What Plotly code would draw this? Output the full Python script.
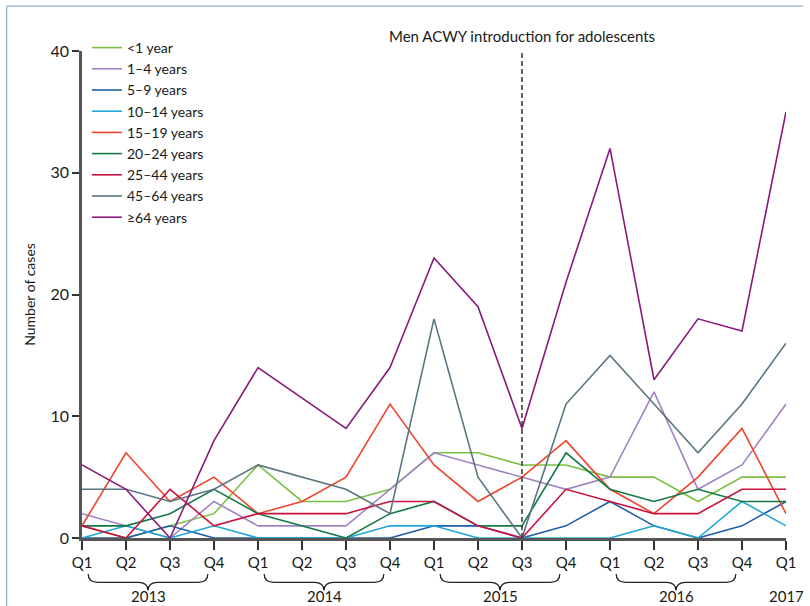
import plotly.graph_objects as go

quarters = ["Q1", "Q2", "Q3", "Q4"] * 4 + ["Q1"]
years = ["2013", "2014", "2015", "2016", "2017"]

series_names = ["<1 year", "1–4 years", "5–9 years", "10–14 years", "15–19 years",
                "20–24 years", "25–44 years", "45–64 years", "≥64 years"]

lt1 = [1, 0, 1, 2, 6, 3, 3, 4, 7, 7, 6, 6, 5, 5, 3, 5, 5]
a1_4 = [2, 1, 0, 3, 1, 1, 1, 4, 7, 6, 5, 4, 5, 12, 4, 6, 11]
a5_9 = [0, 0, 1, 0, 0, 0, 0, 0, 1, 1, 0, 1, 3, 1, 0, 1, 3]
a10_14 = [0, 1, 0, 1, 0, 0, 0, 1, 1, 0, 0, 0, 0, 1, 0, 3, 1]
a15_19 = [1, 7, 3, 5, 2, 3, 5, 11, 6, 3, 5, 8, 4, 2, 5, 9, 2]
a20_24 = [1, 1, 2, 4, 2, 1, 0, 2, 3, 1, 1, 7, 4, 3, 4, 3, 3]
a25_44 = [1, 0, 4, 1, 2, 2, 2, 3, 3, 1, 0, 4, 3, 2, 2, 4, 4]
a45_64 = [4, 4, 3, 4, 6, 5, 4, 2, 18, 5, 0, 11, 15, 11, 7, 11, 16]
a64p = [6, 4, 0, 8, 14, 11.5, 9, 14, 23, 19, 9, 21, 32, 13, 18, 17, 35]

colors = ["#7cbf43", "#a283c6", "#1f5ea6", "#22a8d4", "#f0432d",
          "#147a45", "#c8123f", "#5a7580", "#891a7b"]

all_series = [lt1, a1_4, a5_9, a10_14, a15_19, a20_24, a25_44, a45_64, a64p]
x_idx = list(range(len(quarters)))
intro_index = 10  # Q3 2015

FONT = "Lato"
fig = go.Figure()
for name, vals, col in zip(series_names, all_series, colors):
    fig.add_trace(go.Scatter(x=x_idx, y=vals, mode="lines", name=name,
                             line=dict(color=col, width=1.6), cliponaxis=False))

shapes = []
shapes.append(dict(type="line", xref="x", yref="y", x0=intro_index, x1=intro_index,
                   y0=0, y1=40.2, line=dict(color="#333333", width=1.5, dash="5px,3px")))

annotations = [dict(text="Men ACWY introduction for adolescents", x=intro_index, xref="x",
                    y=1.031, yref="paper", showarrow=False, xanchor="center", yanchor="middle",
                    font=dict(family=FONT, size=15, color="#1a1a1a"))]

yt, yf, yb = -0.074, -0.091, -0.108
for k, yr in enumerate(years):
    if k < 4:
        a = 4 * k + 0.14
        b = 4 * k + 2.86
        m = 4 * k + 1.5
        path = (f"M {a},{yt} Q {a},{yf} {a+0.22},{yf} L {m-0.22},{yf} "
                f"Q {m},{yf} {m},{yb} Q {m},{yf} {m+0.22},{yf} "
                f"L {b-0.22},{yf} Q {b},{yf} {b},{yt}")
        shapes.append(dict(type="path", xref="x", yref="paper", path=path,
                           line=dict(color="#222222", width=1.3)))
        xm = m
    else:
        xm = 4 * k
    annotations.append(dict(text=yr, x=xm, xref="x", y=-0.12, yref="paper",
                            showarrow=False, xanchor="center", yanchor="middle",
                            font=dict(family=FONT, size=15, color="#1a1a1a")))

fig.update_layout(
    width=810, height=606,
    margin=dict(l=82, r=24, t=51, b=68),
    paper_bgcolor="white", plot_bgcolor="white",
    font=dict(family=FONT, size=15, color="#1a1a1a"),
    showlegend=True,
    legend=dict(x=0.007, y=1.039, xanchor="left", yanchor="top",
                bgcolor="rgba(0,0,0,0)", font=dict(family=FONT, size=14, color="#1a1a1a"),
                tracegroupgap=0),
    xaxis=dict(range=[0, 16], tickvals=x_idx, ticktext=quarters, showgrid=False,
               zeroline=False, showline=True, linecolor="#555555", linewidth=2.5,
               ticks="outside", ticklen=9, tickwidth=1.5, tickcolor="#333333",
               tickfont=dict(family=FONT, size=15, color="#1a1a1a")),
    yaxis=dict(range=[0, 40], tickvals=[0, 10, 20, 30, 40], showgrid=False,
               zeroline=False, showline=True, linecolor="#555555", linewidth=2.5,
               ticks="outside", ticklen=7, tickwidth=1.5, tickcolor="#333333",
               tickfont=dict(family=FONT, size=16, color="#1a1a1a"),
               title=dict(text="Number of cases", font=dict(family=FONT, size=14, color="#1a1a1a"),
                          standoff=12)),
    shapes=shapes,
    annotations=annotations,
)

# thin blue page frame (left and top edges)
fig.add_shape(type="line", xref="paper", yref="paper", x0=-0.107, x1=-0.107, y0=1.092, y1=-0.14,
              line=dict(color="#8fb3d6", width=1.2))
fig.add_shape(type="line", xref="paper", yref="paper", x0=-0.107, x1=1.024, y0=1.092, y1=1.092,
              line=dict(color="#8fb3d6", width=1.2))

fig.write_html("out.html", config={"displayModeBar": False},
               post_script="document.body.style.margin='0px';document.body.style.overflow='hidden';")
